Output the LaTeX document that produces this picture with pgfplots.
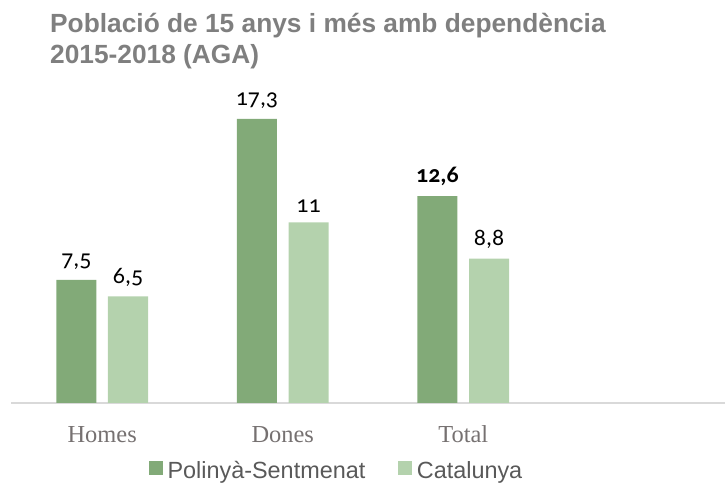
\documentclass[border=0pt]{standalone}
\usepackage{pgfplots}
\pgfplotsset{compat=1.18}
\usepackage{fontspec}
\setmainfont{Liberation Sans}
\newfontfamily\lblfont[Numbers=OldStyle]{Carlito}
\newfontfamily\catfont{Liberation Serif}
\definecolor{dark}{HTML}{82AA78}
\definecolor{light}{HTML}{B4D2AD}
\definecolor{titlegray}{HTML}{7F7F7F}
\definecolor{catgray}{HTML}{767171}
\definecolor{leggray}{HTML}{595959}
\definecolor{axgray}{HTML}{D9D9D9}
\begin{document}
\begin{tikzpicture}[x=1bp,y=1bp]
\node[anchor=base west, inner sep=0pt, font=\fontsize{26.4}{30}\selectfont\bfseries, text=titlegray] at (50,451) {Població de 15 anys i més amb dependència};
\node[anchor=base west, inner sep=0pt, font=\fontsize{26.4}{30}\selectfont\bfseries, text=titlegray] at (50,420) {2015-2018 (AGA)};
\begin{axis}[
  at={(102.2bp,81bp)}, anchor=origin,
  scale only axis, width=714bp, height=328.4bp,
  xmin=-0.505, xmax=3.45, ymin=0, ymax=20,
  hide y axis,
  axis x line=bottom,
  x axis line style={-, draw=axgray, line width=1.5pt},
  xtick={0,1,2}, xticklabels={Homes,Dones,Total},
  major tick length=0pt,
  xticklabel style={font=\catfont\fontsize{24.5}{24.5}\selectfont, text=catgray, anchor=base, yshift=-39bp},
  ybar, bar width=0.222,
  nodes near coords, point meta=explicit symbolic,
  nodes near coords style={font=\lblfont\fontsize{24}{24}\selectfont, text=black, yshift=6.5bp},
  legend columns=2,
  legend image code/.code={\fill[#1] (0bp,-4bp) rectangle (13.5bp,9.5bp);},
  legend style={at={(0.1933,-0.206)}, anchor=west, draw=none, fill=none,
    inner sep=0pt, outer sep=0pt, nodes={inner sep=0pt},
    font=\fontsize{23.5}{23.5}\selectfont, text=leggray,
    /tikz/every odd column/.style={column sep=5bp},
    /tikz/every even column/.style={column sep=33bp}},
]
\addplot[fill=dark, draw=none, bar shift=-0.143] coordinates {(0,7.5) [7,5] (1,17.3) [17,3] (2,12.6) [\textbf{12,6}]};
\addplot[fill=light, draw=none, bar shift=0.143] coordinates {(0,6.5) [6,5] (1,11) [11] (2,8.8) [8,8]};
\legend{Polinyà-Sentmenat, Catalunya}
\end{axis}
\pgfresetboundingbox
\path[use as bounding box] (0bp,0bp) rectangle (725bp,484bp);
\end{tikzpicture}
\end{document}
